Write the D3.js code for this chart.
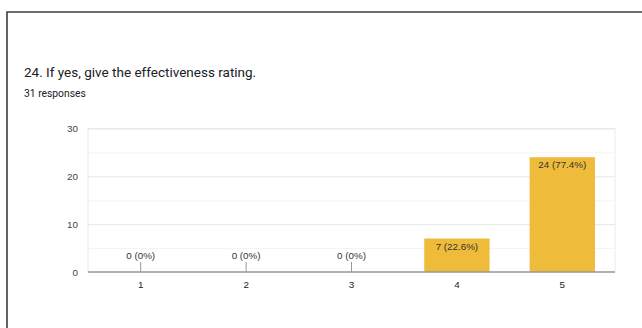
<!DOCTYPE html>
<html><head><meta charset="utf-8">
<script src="https://cdn.jsdelivr.net/npm/d3@7"></script>
<style>
html,body{margin:0;padding:0;background:#fff;}
svg{display:block;}
</style></head>
<body>
<svg id="c" width="642" height="328"></svg>
<script>
const categories = ["1","2","3","4","5"];
const counts = [0,0,0,7,24];
const percents = ["0%","0%","0%","22.6%","77.4%"];
const yTicks = [0,10,20,30];
const minorTicks = [5,15,25];
const title = "24. If yes, give the effectiveness rating.";
const subtitle = "31 responses";

(function(){
const svg = d3.select("#c");
svg.append("path").attr("d","M7,328 V12 H642").attr("fill","none").attr("stroke","#3c3c3c").attr("stroke-width",1.6);

svg.append("text").attr("x",24).attr("y",77).text(title)
  .attr("font-family","Roboto, 'Open Sans', sans-serif").attr("font-size",13.5).attr("fill","#202124");
svg.append("text").attr("x",24).attr("y",97).text(subtitle)
  .attr("font-family","Roboto, sans-serif").attr("font-size",10.3).attr("fill","#202124");

const pL=88,pR=615,pT=128.5,pB=272;
const x = d3.scaleBand().domain(categories).range([pL,pR]).paddingInner(0.38).paddingOuter(0.19);
const y = d3.scaleLinear().domain([0,30]).range([pB,pT]);

const g = svg.append("g");
g.append("rect").attr("x",pL).attr("y",pT).attr("width",pR-pL).attr("height",pB-pT)
  .attr("fill","none").attr("stroke","#ececec").attr("stroke-width",1);
g.selectAll(".minor").data(minorTicks).enter().append("line")
  .attr("x1",pL).attr("x2",pR).attr("y1",d=>y(d)+0.5).attr("y2",d=>y(d)+0.5)
  .attr("stroke","#f4f4f4");
g.selectAll(".major").data(yTicks.filter(d=>d>0)).enter().append("line")
  .attr("x1",pL).attr("x2",pR).attr("y1",d=>y(d)+0.5).attr("y2",d=>y(d)+0.5)
  .attr("stroke","#e6e6e6");

const yAxis = d3.axisLeft(y).tickValues(yTicks).tickSize(0).tickPadding(10);
const ya = g.append("g").attr("transform",`translate(${pL},0)`).call(yAxis);
ya.select(".domain").remove();
ya.selectAll("text").attr("font-family","Arial, 'Liberation Sans', sans-serif").attr("font-size",9.8).attr("fill","#444");

const data = categories.map((c,i)=>({c, v:counts[i], p:percents[i]}));
g.selectAll(".bar").data(data.filter(d=>d.v>0)).enter().append("rect")
  .attr("x",d=>x(d.c)).attr("width",x.bandwidth())
  .attr("y",d=>y(d.v)).attr("height",d=>y(0)-y(d.v)).attr("fill","#eebb3b");

g.selectAll(".stem").data(data.filter(d=>d.v===0)).enter().append("line")
  .attr("x1",d=>x(d.c)+x.bandwidth()/2).attr("x2",d=>x(d.c)+x.bandwidth()/2)
  .attr("y1",y(0)-10).attr("y2",y(0)).attr("stroke","#999").attr("stroke-width",1);

g.selectAll(".lbl").data(data).enter().append("text")
  .attr("x",d=>x(d.c)+x.bandwidth()/2)
  .attr("y",d=>d.v>0 ? y(d.v)+11 : y(0)-13)
  .attr("text-anchor","middle")
  .attr("font-family","Arial, 'Liberation Sans', sans-serif").attr("font-size",9.8).attr("fill","#333")
  .text(d=>`${d.v} (${d.p})`);

g.append("line").attr("x1",pL).attr("x2",pR).attr("y1",y(0)).attr("y2",y(0))
  .attr("stroke","#9a9a9a").attr("stroke-width",1.5);

const xAxis = d3.axisBottom(x).tickSize(0).tickPadding(9);
const xa = g.append("g").attr("transform",`translate(0,${pB})`).call(xAxis);
xa.select(".domain").remove();
xa.selectAll("text").attr("font-family","Arial, 'Liberation Sans', sans-serif").attr("font-size",9.8).attr("fill","#222");
})();
</script>
</body></html>
